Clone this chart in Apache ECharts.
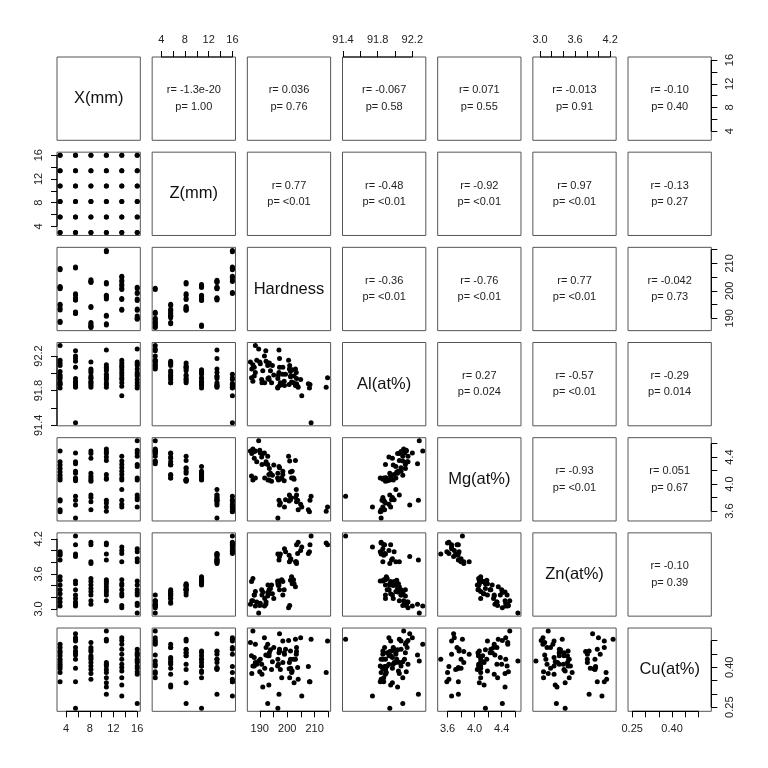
<!DOCTYPE html>
<html>
<head>
<meta charset="utf-8">
<script src="https://cdn.jsdelivr.net/npm/echarts@6/dist/echarts.min.js"></script>
<style>
  html, body { margin: 0; padding: 0; background: #fff; }
  #chart { width: 768px; height: 768px; }
</style>
</head>
<body>
<div id="chart"></div>
<script>
// variable names on the diagonal
const varNames = ['X(mm)', 'Z(mm)', 'Hardness', 'Al(at%)', 'Mg(at%)', 'Zn(at%)', 'Cu(at%)'];

// 72 samples: 6 X positions x 6 Z positions x 2 repeats
const xmm = [
  3, 3, 3, 3, 3, 3, 3, 3, 3, 3, 3, 3,
  5.6, 5.6, 5.6, 5.6, 5.6, 5.6, 5.6, 5.6, 5.6, 5.6, 5.6, 5.6,
  8.2, 8.2, 8.2, 8.2, 8.2, 8.2, 8.2, 8.2, 8.2, 8.2, 8.2, 8.2,
  10.8, 10.8, 10.8, 10.8, 10.8, 10.8, 10.8, 10.8, 10.8, 10.8, 10.8, 10.8,
  13.4, 13.4, 13.4, 13.4, 13.4, 13.4, 13.4, 13.4, 13.4, 13.4, 13.4, 13.4,
  16, 16, 16, 16, 16, 16, 16, 16, 16, 16, 16, 16
];
const zmm = [
  3, 3, 5.6, 5.6, 8.2, 8.2, 10.8, 10.8, 13.4, 13.4, 16, 16,
  3, 3, 5.6, 5.6, 8.2, 8.2, 10.8, 10.8, 13.4, 13.4, 16, 16,
  3, 3, 5.6, 5.6, 8.2, 8.2, 10.8, 10.8, 13.4, 13.4, 16, 16,
  3, 3, 5.6, 5.6, 8.2, 8.2, 10.8, 10.8, 13.4, 13.4, 16, 16,
  3, 3, 5.6, 5.6, 8.2, 8.2, 10.8, 10.8, 13.4, 13.4, 16, 16,
  3, 3, 5.6, 5.6, 8.2, 8.2, 10.8, 10.8, 13.4, 13.4, 16, 16
];
const hardness = [
  188.4, 188.9, 195.1, 194.6, 193.5, 193.0, 201.2, 201.6, 201.2, 200.7, 207.7, 208.1,
  191.7, 192.2, 192.3, 191.8, 198.4, 198.9, 196.6, 197.2, 197.2, 196.6, 208.3, 208.7,
  186.6, 187.1, 188.0, 188.4, 193.9, 194.3, 187.0, 187.5, 203.4, 203.0, 203.4, 204.0,
  187.5, 188.0, 191.1, 190.7, 203.0, 202.5, 198.4, 198.0, 197.0, 197.5, 214.7, 214.2,
  200.5, 200.9, 192.9, 193.3, 197.2, 196.8, 201.8, 202.3, 203.3, 203.8, 204.9, 205.3,
  189.6, 190.0, 190.2, 190.8, 192.9, 193.4, 197.0, 196.5, 200.8, 201.3, 199.4, 199.0
];
const al = [
  92.32, 92.15, 91.98, 92.09, 92.12, 91.94, 92.02, 91.90, 91.96, 91.87, 91.88, 91.83,
  92.20, 92.26, 92.14, 91.89, 92.07, 91.91, 91.94, 91.86, 92.17, 91.84, 91.87, 91.43,
  92.13, 92.05, 91.97, 92.01, 92.03, 91.89, 91.95, 91.91, 91.94, 91.86, 91.88, 91.84,
  92.10, 92.07, 92.03, 91.93, 92.05, 91.97, 91.99, 91.87, 92.27, 91.89, 91.95, 91.84,
  92.15, 92.09, 92.12, 91.95, 92.07, 91.98, 92.04, 91.89, 92.01, 91.85, 91.93, 91.74,
  92.28, 92.13, 92.11, 91.89, 92.09, 91.93, 92.01, 91.83, 92.05, 91.97, 91.99, 91.86
];
const mg = [
  4.49, 4.33, 4.28, 4.13, 4.23, 4.06, 4.18, 4.09, 3.77, 3.75, 3.62, 3.59,
  4.46, 4.30, 4.33, 4.09, 4.19, 4.05, 4.16, 4.07, 3.69, 3.50, 3.76, 3.82,
  4.49, 4.45, 4.38, 4.09, 4.16, 4.04, 4.12, 4.06, 3.84, 3.80, 3.74, 3.62,
  4.52, 4.48, 4.45, 4.40, 4.35, 4.07, 4.14, 4.09, 3.76, 3.72, 3.66, 3.60,
  4.41, 4.34, 4.29, 4.14, 4.24, 4.06, 4.19, 4.09, 3.92, 3.76, 3.70, 3.66,
  4.64, 4.50, 4.46, 4.29, 4.41, 4.06, 4.26, 4.09, 3.84, 3.80, 3.77, 3.66
];
const zn = [
  3.05, 3.12, 3.18, 3.26, 3.33, 3.41, 3.49, 3.55, 3.84, 3.92, 3.95, 3.98,
  3.05, 3.08, 3.12, 3.18, 3.24, 3.33, 3.43, 3.48, 3.90, 3.94, 4.10, 4.25,
  3.08, 3.14, 3.24, 3.30, 3.35, 3.41, 3.47, 3.52, 3.78, 3.81, 4.10, 4.14,
  3.14, 3.24, 3.29, 3.33, 3.38, 3.43, 3.47, 3.50, 3.84, 3.94, 4.10, 4.13,
  3.02, 3.06, 3.22, 3.26, 3.33, 3.40, 3.43, 3.50, 3.81, 3.95, 4.00, 4.06,
  2.93, 3.06, 3.10, 3.24, 3.28, 3.33, 3.41, 3.48, 3.81, 3.86, 3.98, 4.03
];
const cu = [
  0.487, 0.411, 0.474, 0.421, 0.455, 0.443, 0.430, 0.380, 0.461, 0.394, 0.403, 0.346,
  0.511, 0.446, 0.474, 0.396, 0.499, 0.455, 0.246, 0.461, 0.526, 0.430, 0.346, 0.505,
  0.493, 0.377, 0.437, 0.418, 0.466, 0.392, 0.443, 0.405, 0.459, 0.430, 0.474, 0.355,
  0.536, 0.405, 0.326, 0.411, 0.505, 0.342, 0.418, 0.361, 0.299, 0.392, 0.499, 0.380,
  0.501, 0.361, 0.487, 0.333, 0.468, 0.411, 0.386, 0.430, 0.449, 0.399, 0.511, 0.292,
  0.424, 0.383, 0.430, 0.374, 0.264, 0.443, 0.455, 0.405, 0.418, 0.396, 0.468, 0.449
];

// axis ticks and labelled ticks per variable
const tickVals = [
  [4, 6, 8, 10, 12, 14, 16],
  [4, 6, 8, 10, 12, 14, 16],
  [190, 195, 200, 205, 210, 215],
  [91.4, 91.6, 91.8, 92.0, 92.2],
  [3.6, 3.8, 4.0, 4.2, 4.4, 4.6],
  [3.0, 3.2, 3.4, 3.6, 3.8, 4.0, 4.2],
  [0.25, 0.30, 0.35, 0.40, 0.45, 0.50]
];
const labelVals = [
  [4, 8, 12, 16],
  [4, 8, 12, 16],
  [190, 200, 210],
  [91.4, 91.8, 92.2],
  [3.6, 4.0, 4.4],
  [3.0, 3.6, 4.2],
  [0.25, 0.40]
];
const labelDigits = [0, 0, 0, 1, 1, 1, 2];

// upper panels: correlation text, row by row (i < j)
const rText = [
  ['r= -1.3e-20', 'r= 0.036', 'r= -0.067', 'r= 0.071', 'r= -0.013', 'r= -0.10'],
  ['r= 0.77', 'r= -0.48', 'r= -0.92', 'r= 0.97', 'r= -0.13'],
  ['r= -0.36', 'r= -0.76', 'r= 0.77', 'r= -0.042'],
  ['r= 0.27', 'r= -0.57', 'r= -0.29'],
  ['r= -0.93', 'r= 0.051'],
  ['r= -0.10']
];
const pText = [
  ['p= 1.00', 'p= 0.76', 'p= 0.58', 'p= 0.55', 'p= 0.91', 'p= 0.40'],
  ['p= <0.01', 'p= <0.01', 'p= <0.01', 'p= <0.01', 'p= 0.27'],
  ['p= <0.01', 'p= <0.01', 'p= <0.01', 'p= 0.73'],
  ['p= 0.024', 'p= <0.01', 'p= 0.014'],
  ['p= <0.01', 'p= 0.67'],
  ['p= 0.39']
];

const FONT = '"Liberation Sans", Arial, Helvetica, sans-serif';
const P0 = 57, STEP = 95.17, SIZE = 83.3;

const vars = [xmm, zmm, hardness, al, mg, zn, cu];
// R style range: data range stretched 4% each side
const ranges = vars.map(function (v) {
  const lo = Math.min.apply(null, v), hi = Math.max.apply(null, v);
  const d = (hi - lo) * 0.04;
  return [lo - d, hi + d];
});

function makeAxis(k, g, position, withTicks, vertical) {
  return {
    type: 'value',
    gridIndex: g,
    min: ranges[k][0],
    max: ranges[k][1],
    position: position,
    axisLine: { show: false },
    splitLine: { show: false },
    axisTick: {
      show: withTicks,
      customValues: tickVals[k],
      length: 6,
      inside: false,
      lineStyle: { color: '#000', width: 1 }
    },
    axisLabel: {
      show: withTicks,
      customValues: labelVals[k],
      margin: vertical ? 13 : 12,
      rotate: vertical ? 90 : 0,
      fontSize: 11,
      fontFamily: FONT,
      color: '#222',
      formatter: function (v) { return Number(v).toFixed(labelDigits[k]); }
    }
  };
}

const grids = [], xAxes = [], yAxes = [], series = [], graphics = [];
const tickedAxes = [];

for (let i = 0; i < 7; i++) {
  for (let j = 0; j < 7; j++) {
    const g = i * 7 + j;
    const left = P0 + j * STEP, top = P0 + i * STEP;
    grids.push({
      left: left, top: top, width: SIZE, height: SIZE,
      show: true, borderColor: '#555', borderWidth: 1, backgroundColor: 'transparent'
    });
    const xTicks = (i === 0 && j % 2 === 1) || (i === 6 && j % 2 === 0);
    const yTicks = (j === 0 && i % 2 === 1) || (j === 6 && i % 2 === 0);
    xAxes.push(makeAxis(j, g, i === 0 ? 'top' : 'bottom', xTicks, false));
    yAxes.push(makeAxis(i, g, j === 0 ? 'left' : 'right', yTicks, true));
    if (xTicks) tickedAxes.push({ g: g, k: j, dim: 'x', edge: i === 0 ? top : top + SIZE });
    if (yTicks) tickedAxes.push({ g: g, k: i, dim: 'y', edge: j === 0 ? left : left + SIZE });

    const cx = left + SIZE / 2, cy = top + SIZE / 2;
    if (i > j) {
      series.push({
        type: 'scatter',
        xAxisIndex: g,
        yAxisIndex: g,
        symbol: 'circle',
        symbolSize: 5,
        itemStyle: { color: '#000', opacity: 1 },
        silent: true,
        data: vars[j].map(function (v, n) { return [v, vars[i][n]]; })
      });
    } else if (i === j) {
      graphics.push({
        type: 'text', x: cx, y: cy,
        style: {
          text: varNames[i], font: '16.5px ' + FONT, fill: '#111',
          textAlign: 'center', textVerticalAlign: 'middle', align: 'center', verticalAlign: 'middle'
        }
      });
    } else {
      const col = j - i - 1;
      graphics.push({
        type: 'text', x: cx, y: cy - 8.3,
        style: {
          text: rText[i][col], font: '11px ' + FONT, fill: '#222',
          textAlign: 'center', textVerticalAlign: 'middle', align: 'center', verticalAlign: 'middle'
        }
      });
      graphics.push({
        type: 'text', x: cx, y: cy + 8.3,
        style: {
          text: pText[i][col], font: '11px ' + FONT, fill: '#222',
          textAlign: 'center', textVerticalAlign: 'middle', align: 'center', verticalAlign: 'middle'
        }
      });
    }
  }
}

const chart = echarts.init(document.getElementById('chart'));
chart.setOption({
  animation: false,
  backgroundColor: '#fff',
  grid: grids,
  xAxis: xAxes,
  yAxis: yAxes,
  series: series,
  graphic: graphics
});

// black axis segment from first to last tick, placed with the axis scale
tickedAxes.forEach(function (a) {
  const t = tickVals[a.k];
  const finder = a.dim === 'x' ? { xAxisIndex: a.g } : { yAxisIndex: a.g };
  const p1 = chart.convertToPixel(finder, t[0]);
  const p2 = chart.convertToPixel(finder, t[t.length - 1]);
  const shape = a.dim === 'x'
    ? { x1: p1, y1: a.edge, x2: p2, y2: a.edge }
    : { x1: a.edge, y1: p1, x2: a.edge, y2: p2 };
  graphics.push({ type: 'line', shape: shape, style: { stroke: '#000', lineWidth: 1.2 }, silent: true });
});
chart.setOption({ graphic: graphics });
</script>
</body>
</html>
